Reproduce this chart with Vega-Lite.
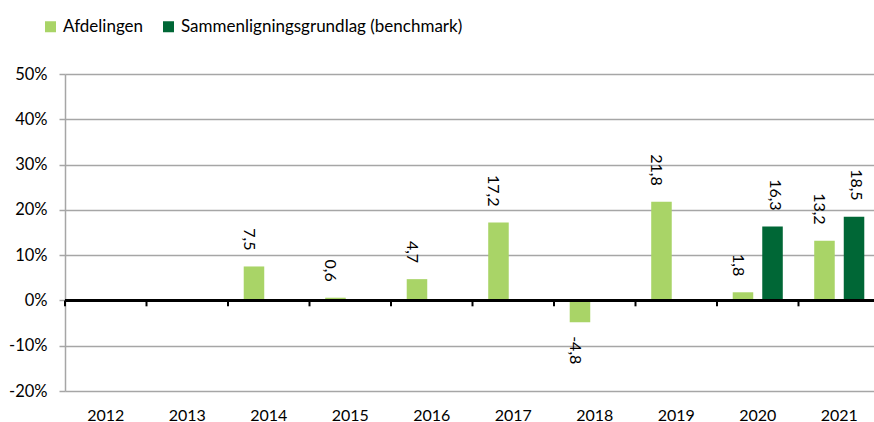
{
  "$schema": "https://vega.github.io/schema/vega-lite/v6.json",
  "width": 809,
  "height": 317,
  "autosize": "none",
  "padding": {"left": 65, "top": 74, "right": 0, "bottom": 31},
  "config": {
    "view": {"stroke": null},
    "font": "Lato",
    "locale": {"number": {"decimal": ",", "thousands": ".", "grouping": [3], "currency": ["", ""], "minus": "-"}}
  },
  "data": {
    "values": [
      {"year": "2014", "series": "Afdelingen", "value": 7.5},
      {"year": "2015", "series": "Afdelingen", "value": 0.6},
      {"year": "2016", "series": "Afdelingen", "value": 4.7},
      {"year": "2017", "series": "Afdelingen", "value": 17.2},
      {"year": "2018", "series": "Afdelingen", "value": -4.8},
      {"year": "2019", "series": "Afdelingen", "value": 21.8},
      {"year": "2020", "series": "Afdelingen", "value": 1.8},
      {"year": "2020", "series": "Sammenligningsgrundlag (benchmark)", "value": 16.3},
      {"year": "2021", "series": "Afdelingen", "value": 13.2},
      {"year": "2021", "series": "Sammenligningsgrundlag (benchmark)", "value": 18.5}
    ]
  },
  "layer": [
    {
      "mark": {"type": "bar"},
      "encoding": {
        "x": {
          "field": "year", "type": "nominal",
          "scale": {"domain": ["2012","2013","2014","2015","2016","2017","2018","2019","2020","2021"], "range": [0, 815], "paddingInner": 0, "paddingOuter": 0},
          "axis": {"title": null, "labelAngle": 0, "ticks": false, "domain": false, "grid": false, "labelFontSize": 16, "labelPadding": 16, "labelColor": "#000000"}
        },
        "xOffset": {
          "field": "series", "type": "nominal",
          "scale": {"domain": ["Afdelingen", "Sammenligningsgrundlag (benchmark)"], "paddingInner": 0.305, "paddingOuter": 0.532}
        },
        "y": {
          "field": "value", "type": "quantitative",
          "scale": {"domain": [-20, 50], "nice": false},
          "axis": {
            "title": null, "values": [-20, -10, 0, 10, 20, 30, 40, 50],
            "labelExpr": "datum.value + '%'",
            "grid": true, "gridColor": "#a6a6a6", "gridWidth": 1.5,
            "domainColor": "#a6a6a6", "domainWidth": 1.5,
            "tickColor": "#a6a6a6", "tickWidth": 1.5, "tickSize": 6,
            "labelFontSize": 16.5, "labelPadding": 12, "labelColor": "#000000"
          }
        },
        "color": {
          "field": "series", "type": "nominal",
          "scale": {"domain": ["Afdelingen", "Sammenligningsgrundlag (benchmark)"], "range": ["#a9d467", "#006736"]},
          "legend": {
            "title": null, "orient": "none", "legendX": -23, "legendY": -56,
            "direction": "horizontal", "symbolType": "square", "symbolSize": 121,
            "symbolStrokeWidth": 0, "labelFontSize": 17, "labelOffset": 4,
            "columnPadding": 16, "labelColor": "#000000", "labelLimit": 400
          }
        }
      }
    },
    {
      "mark": {"type": "rule", "color": "#000000", "strokeWidth": 2},
      "encoding": {"y": {"datum": 0}}
    },
    {
      "data": {"values": [{"year": "2012"},{"year": "2013"},{"year": "2014"},{"year": "2015"},{"year": "2016"},{"year": "2017"},{"year": "2018"},{"year": "2019"},{"year": "2020"},{"year": "2021"}]},
      "mark": {"type": "rule", "color": "#000000", "strokeWidth": 2},
      "encoding": {
        "x": {"field": "year", "type": "nominal", "bandPosition": 0},
        "y": {"datum": 0},
        "y2": {"datum": -1.3}
      }
    },
    {
      "transform": [{"filter": "datum.value >= 0 && datum.series == 'Afdelingen'"}],
      "mark": {"type": "text", "angle": 90, "align": "right", "baseline": "middle", "dx": -16, "dy": 5, "fontSize": 16, "color": "#000000"},
      "encoding": {
        "x": {"field": "year", "type": "nominal"},
        "xOffset": {"field": "series", "type": "nominal"},
        "y": {"field": "value", "type": "quantitative"},
        "text": {"field": "value", "type": "quantitative", "format": ".1f"}
      }
    },
    {
      "transform": [{"filter": "datum.value >= 0 && datum.series != 'Afdelingen'"}],
      "mark": {"type": "text", "angle": 90, "align": "right", "baseline": "middle", "dx": -16, "dy": -2, "fontSize": 16, "color": "#000000"},
      "encoding": {
        "x": {"field": "year", "type": "nominal"},
        "xOffset": {"field": "series", "type": "nominal"},
        "y": {"field": "value", "type": "quantitative"},
        "text": {"field": "value", "type": "quantitative", "format": ".1f"}
      }
    },
    {
      "transform": [{"filter": "datum.value < 0"}],
      "mark": {"type": "text", "angle": 90, "align": "left", "baseline": "middle", "dx": 14, "dy": 5, "fontSize": 16, "color": "#000000"},
      "encoding": {
        "x": {"field": "year", "type": "nominal"},
        "xOffset": {"field": "series", "type": "nominal"},
        "y": {"field": "value", "type": "quantitative"},
        "text": {"field": "value", "type": "quantitative", "format": ".1f"}
      }
    }
  ]
}
